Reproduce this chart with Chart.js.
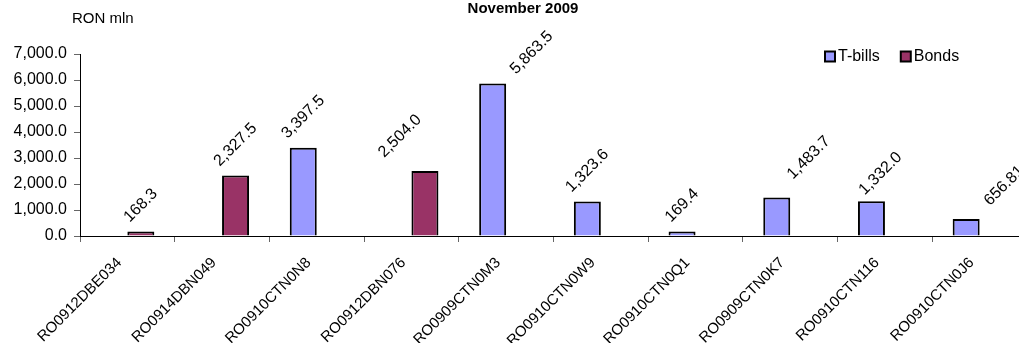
<!DOCTYPE html>
<html>
<head>
<meta charset="utf-8">
<title>November 2009</title>
<script src="https://cdn.jsdelivr.net/npm/chart.js@4"></script>
<style>
  html, body { margin: 0; padding: 0; background: #fff; overflow: hidden; }
  #wrap { position: relative; width: 1027px; height: 343px; }
</style>
</head>
<body>
<div id="wrap"><canvas id="chart"></canvas></div>
<script>
// Issues in November 2009 (RON mln)
const categories = [
  'RO0912DBE034', 'RO0914DBN049', 'RO0910CTN0N8', 'RO0912DBN076', 'RO0909CTN0M3',
  'RO0910CTN0W9', 'RO0910CTN0Q1', 'RO0909CTN0K7', 'RO0910CTN116', 'RO0910CTN0J6'
];
const tBills = [null, null, 3397.5, null, 5863.5, 1323.6, 169.4, 1483.7, 1332.0, 656.81];
const bonds  = [168.3, 2327.5, null, 2504.0, null, null, null, null, null, null];
const seriesNames = ['T-bills', 'Bonds'];
const yMin = 0;
const yMax = 7000;
const yStep = 1000;
const chartTitle = 'November 2009';
const unitLabel = 'RON mln';

// Hand-placed nudges (px) for some of the rotated value labels
const labelNudges = [[0, 0], [0, 0], [0, 0], [-25, -4], [39, 0], [0, 0], [0, 0], [32, -9], [9, 3], [38, -4]];

const FONT = '"Liberation Sans", Arial, Helvetica, sans-serif';
const fmtAxis = v => v.toLocaleString('en-US', { minimumFractionDigits: 1, maximumFractionDigits: 1 });
const fmtValue = v => v.toLocaleString('en-US', { minimumFractionDigits: 1, maximumFractionDigits: 2 });

// Value labels rotated 45 degrees above each bar
const valueLabels = {
  id: 'valueLabels',
  afterDatasetsDraw(chart) {
    const ctx = chart.ctx;
    ctx.save();
    ctx.font = '16px ' + FONT;
    ctx.fillStyle = '#000';
    ctx.textAlign = 'center';
    ctx.textBaseline = 'middle';
    chart.data.datasets.forEach((ds, di) => {
      const meta = chart.getDatasetMeta(di);
      ds.data.forEach((v, i) => {
        if (v == null) return;
        const bar = meta.data[i];
        const text = fmtValue(v);
        const w = ctx.measureText(text).width;
        const half = (w + 11) * Math.SQRT1_2 / 2;
        const [dx, dy] = labelNudges[i];
        ctx.save();
        ctx.translate(bar.x + dx, bar.y - 8 - half + dy);
        ctx.rotate(-Math.PI / 4);
        ctx.fillText(text, 0, 0);
        ctx.restore();
      });
    });
    ctx.restore();
  }
};

// Title, unit caption and the legend inside the plot area
const captions = {
  id: 'captions',
  afterDraw(chart) {
    const ctx = chart.ctx;
    ctx.save();
    ctx.fillStyle = '#000';
    ctx.textBaseline = 'middle';
    ctx.textAlign = 'center';
    ctx.font = 'bold 15px ' + FONT;
    ctx.fillText(chartTitle, 523, 9);
    ctx.textAlign = 'left';
    ctx.font = '15px ' + FONT;
    ctx.fillText(unitLabel, 72, 19);

    ctx.font = '16px ' + FONT;
    let x = 824;
    const y = 56.5;
    chart.data.datasets.forEach(ds => {
      ctx.fillStyle = '#000';
      ctx.fillRect(x, y - 6, 12, 12);
      ctx.fillStyle = ds.backgroundColor;
      ctx.fillRect(x + 2, y - 4, 8, 8);
      ctx.fillStyle = '#000';
      ctx.fillText(ds.label, x + 14, y);
      x += 14 + ctx.measureText(ds.label).width + 20;
    });
    ctx.restore();
  }
};

new Chart(document.getElementById('chart'), {
  type: 'bar',
  data: {
    labels: categories,
    datasets: [
      { label: seriesNames[0], data: tBills, backgroundColor: '#9999FF', borderColor: '#000', borderWidth: 2, borderSkipped: 'start' },
      { label: seriesNames[1], data: bonds,  backgroundColor: '#993366', borderColor: '#000', borderWidth: 2, borderSkipped: 'start' }
    ]
  },
  options: {
    responsive: true,
    maintainAspectRatio: false,
    animation: false,
    datasets: { bar: { categoryPercentage: 0.57, barPercentage: 1.0 } },
    layout: { padding: { top: 54, left: 0, right: 0, bottom: 0 } },
    plugins: {
      legend: { display: false },
      title: { display: false },
      tooltip: { enabled: false }
    },
    scales: {
      x: {
        offset: true,
        grid: { offset: true, drawOnChartArea: false, drawTicks: true, tickLength: 6, color: '#666' },
        border: { display: true, color: '#000', width: 1 },
        ticks: {
          minRotation: 45, maxRotation: 45, autoSkip: false,
          labelOffset: -8, padding: 12,
          color: '#000', font: { family: FONT, size: 15 }
        },
        afterFit(scale) { scale.height = 107; }
      },
      y: {
        min: yMin, max: yMax,
        grid: { drawOnChartArea: false, drawTicks: true, tickLength: 6, color: '#666' },
        border: { display: true, color: '#000', width: 1 },
        ticks: {
          stepSize: yStep, padding: 7,
          color: '#000', font: { family: FONT, size: 16 },
          callback: v => fmtAxis(v)
        },
        afterFit(scale) { scale.width = 80; }
      }
    }
  },
  plugins: [valueLabels, captions]
});
</script>
</body>
</html>
